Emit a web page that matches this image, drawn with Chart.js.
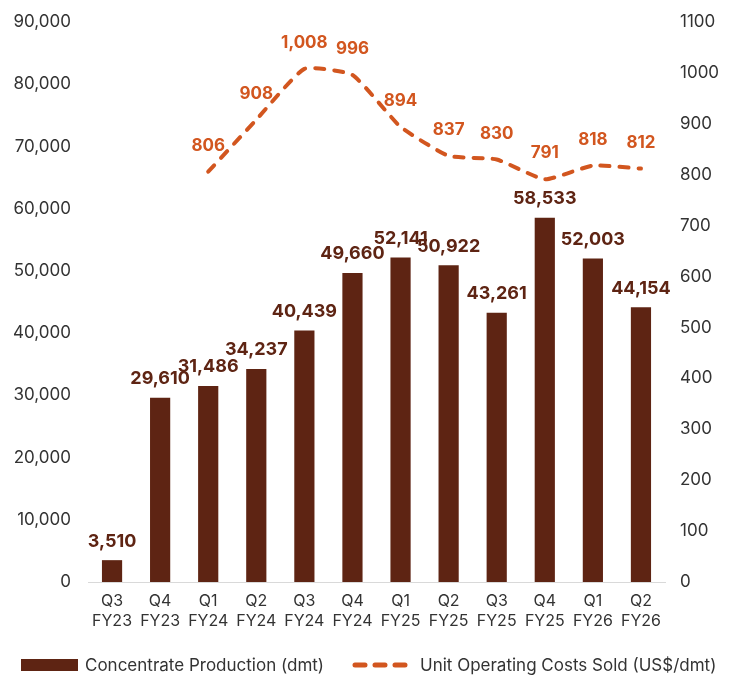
<!DOCTYPE html>
<html>
<head>
<meta charset="utf-8">
<script src="https://cdn.jsdelivr.net/npm/chart.js@4/dist/chart.umd.min.js"></script>
<style>
  html, body { margin: 0; padding: 0; background: #ffffff; }
  #wrap { width: 737px; height: 678px; position: relative; }
  #legend { position: absolute; left: 0; top: 655px; width: 737px; height: 20px;
            font-family: Inter, 'Liberation Sans', sans-serif; font-size: 17px; color: #333333; }
  #legend .sw { position: absolute; top: 4px; }
  #legend .tx { position: absolute; top: 0; line-height: 20px; white-space: nowrap; }
</style>
</head>
<body>
<div id="wrap">
  <canvas id="c"></canvas>
  <div id="legend">
    <div class="sw" id="swBar" style="left:21px; width:57px; height:12px;"></div>
    <span class="tx" id="txBar" style="left:85px;"></span>
    <svg class="sw" id="swLine" style="left:352px;" width="57" height="12" viewBox="0 0 57 12">
      <line x1="3" y1="6" x2="53" y2="6" stroke-width="5" stroke-linecap="round" stroke-dasharray="10 10"></line>
    </svg>
    <span class="tx" id="txLine" style="left:420px;"></span>
  </div>
</div>
<script>
const quarters = ["Q3", "Q4", "Q1", "Q2", "Q3", "Q4", "Q1", "Q2", "Q3", "Q4", "Q1", "Q2"];
const fiscalYears = ["FY23", "FY23", "FY24", "FY24", "FY24", "FY24", "FY25", "FY25", "FY25", "FY25", "FY26", "FY26"];
const production = [3510, 29610, 31486, 34237, 40439, 49660, 52141, 50922, 43261, 58533, 52003, 44154];
const unitCosts = [null, null, 806, 908, 1008, 996, 894, 837, 830, 791, 818, 812];
const productionLabel = "Concentrate Production (dmt)";
const costLabel = "Unit Operating Costs Sold (US$/dmt)";

const BAR = "#5E2413";
const LINE = "#D2561F";
const FONT = "Inter, 'Liberation Sans', sans-serif";

document.getElementById("swBar").style.background = BAR;
document.querySelector("#swLine line").setAttribute("stroke", LINE);
document.getElementById("txBar").textContent = productionLabel;
document.getElementById("txLine").textContent = costLabel;

const labels = quarters.map((q, i) => [q, fiscalYears[i]]);

const valueLabels = {
  id: "valueLabels",
  afterDatasetsDraw(chart) {
    const ctx = chart.ctx;
    ctx.save();
    ctx.textAlign = "center";
    ctx.textBaseline = "middle";
    const barMeta = chart.getDatasetMeta(0);
    ctx.font = "bold 18px " + FONT;
    ctx.fillStyle = BAR;
    barMeta.data.forEach((el, i) => {
      const v = production[i];
      if (v == null) return;
      ctx.fillText(v.toLocaleString("en-US"), el.x, el.y - 19);
    });
    const lineMeta = chart.getDatasetMeta(1);
    ctx.font = "bold 17px " + FONT;
    ctx.fillStyle = LINE;
    lineMeta.data.forEach((el, i) => {
      const v = unitCosts[i];
      if (v == null) return;
      ctx.fillText(v.toLocaleString("en-US"), el.x, el.y - 26);
    });
    ctx.restore();
  }
};

new Chart(document.getElementById("c"), {
  data: {
    labels: labels,
    datasets: [
      {
        type: "bar",
        label: productionLabel,
        data: production,
        backgroundColor: BAR,
        yAxisID: "y",
        barPercentage: 0.42,
        categoryPercentage: 1.0,
        order: 2
      },
      {
        type: "line",
        label: costLabel,
        data: unitCosts,
        borderColor: LINE,
        backgroundColor: LINE,
        borderWidth: 4,
        borderDash: [9, 10],
        borderCapStyle: "round",
        pointRadius: 0,
        pointHoverRadius: 0,
        tension: 0.15,
        yAxisID: "y1",
        order: 1
      }
    ]
  },
  options: {
    responsive: true,
    maintainAspectRatio: false,
    animation: false,
    layout: { padding: { top: 22, left: 0, right: 0, bottom: 30 } },
    plugins: {
      tooltip: { enabled: false },
      legend: { display: false }
    },
    scales: {
      x: {
        offset: true,
        grid: { display: false, drawTicks: false },
        border: { display: true, color: "#d9d9d9", width: 1 },
        ticks: {
          color: "#333333",
          font: { family: FONT, size: 16 },
          padding: 10,
          maxRotation: 0,
          autoSkip: false
        },
        afterFit: (s) => { s.height = 66; }
      },
      y: {
        position: "left",
        min: 0,
        max: 90000,
        grid: { display: false, drawTicks: false },
        border: { display: false },
        ticks: {
          stepSize: 10000,
          color: "#333333",
          font: { family: FONT, size: 17 },
          padding: 17,
          callback: (v) => v.toLocaleString("en-US")
        },
        afterFit: (s) => { s.width = 88; s.paddingTop = 0; s.paddingBottom = 0; }
      },
      y1: {
        position: "right",
        min: 0,
        max: 1100,
        grid: { display: false, drawTicks: false },
        border: { display: false },
        ticks: {
          stepSize: 100,
          color: "#333333",
          font: { family: FONT, size: 17 },
          padding: 15,
          callback: (v) => String(v)
        },
        afterFit: (s) => { s.width = 72; s.paddingTop = 0; s.paddingBottom = 0; }
      }
    }
  },
  plugins: [valueLabels]
});
</script>
</body>
</html>
